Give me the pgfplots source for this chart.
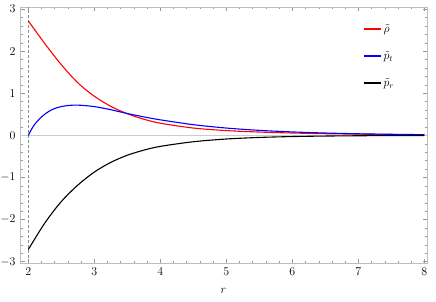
\documentclass[border=0pt]{standalone}
\usepackage{pgfplots}
\pgfplotsset{compat=1.18}
\begin{document}
\begin{tikzpicture}
\useasboundingbox (-20bp,-39bp) rectangle (416bp,263bp);
\begin{axis}[
  at={(0,0)}, anchor=south west,
  scale only axis, width=407bp, height=256bp,
  xmin=1.874, xmax=8.04, ymin=-3.03, ymax=3.05,
  xtick={2,...,8}, ytick={-3,...,3},
  minor x tick num=4, minor y tick num=4,
  tick align=inside,
  major tick length=4.5bp, minor tick length=2.5bp,
  axis line style={black!25, line width=0.9pt},
  every tick/.style={black!40, line width=0.5pt},
  tick label style={font=\fontsize{13}{15}\selectfont},
  yticklabel style={xshift=-1bp},
  xticklabel style={yshift=-1bp},
  xlabel={$r$}, xlabel style={font=\fontsize{13}{15}\selectfont, yshift=-6.5bp},
  legend style={draw=none, fill=none, at={(0.835,0.948)}, anchor=north west,
    font=\fontsize{12}{14}\selectfont, row sep=13.5bp},
  legend cell align=left,
]
\addlegendimage{red, line width=1.5pt}
\addlegendentry{$\tilde{\rho}$}
\addlegendimage{blue, line width=1.5pt}
\addlegendentry{$\tilde{p}_t$}
\addlegendimage{black, line width=1.5pt}
\addlegendentry{$\tilde{p}_r$}
\draw[black!20, line width=0.7pt] (axis cs:1.874,0) -- (axis cs:8.04,0);
\draw[black!45, line width=0.6pt, dash pattern=on 3bp off 2bp] (axis cs:2,-3.03) -- (axis cs:2,3.05);
\addplot[red, line width=1.1pt, smooth, forget plot] coordinates {
(2.0,2.72) (2.25,2.18) (2.5,1.68) (2.75,1.25) (3.0,0.93) (3.25,0.69) (3.5,0.515)
(3.75,0.385) (4.0,0.29) (4.5,0.175) (5.0,0.115) (5.5,0.08) (6.0,0.057) (6.5,0.041)
(7.0,0.03) (7.5,0.022) (8.0,0.016)};
\addplot[blue, line width=1.1pt, smooth, forget plot] coordinates {
(2.0,0.0) (2.05,0.15) (2.1,0.27) (2.2,0.44) (2.3,0.56) (2.4,0.64) (2.5,0.685)
(2.6,0.71) (2.7,0.72) (2.8,0.715) (3.0,0.685) (3.25,0.61) (3.5,0.52) (3.75,0.44)
(4.0,0.37) (4.5,0.255) (5.0,0.175) (5.5,0.12) (6.0,0.083) (6.5,0.057) (7.0,0.039)
(7.5,0.027) (8.0,0.018)};
\addplot[black, line width=1.1pt, smooth, forget plot] coordinates {
(2.0,-2.71) (2.25,-2.08) (2.5,-1.57) (2.75,-1.18) (3.0,-0.87) (3.25,-0.64) (3.5,-0.47)
(3.75,-0.35) (4.0,-0.26) (4.5,-0.15) (5.0,-0.085) (5.5,-0.048) (6.0,-0.027)
(6.5,-0.015) (7.0,-0.008) (7.5,-0.004) (8.0,-0.002)};
\end{axis}
\end{tikzpicture}
\end{document}
